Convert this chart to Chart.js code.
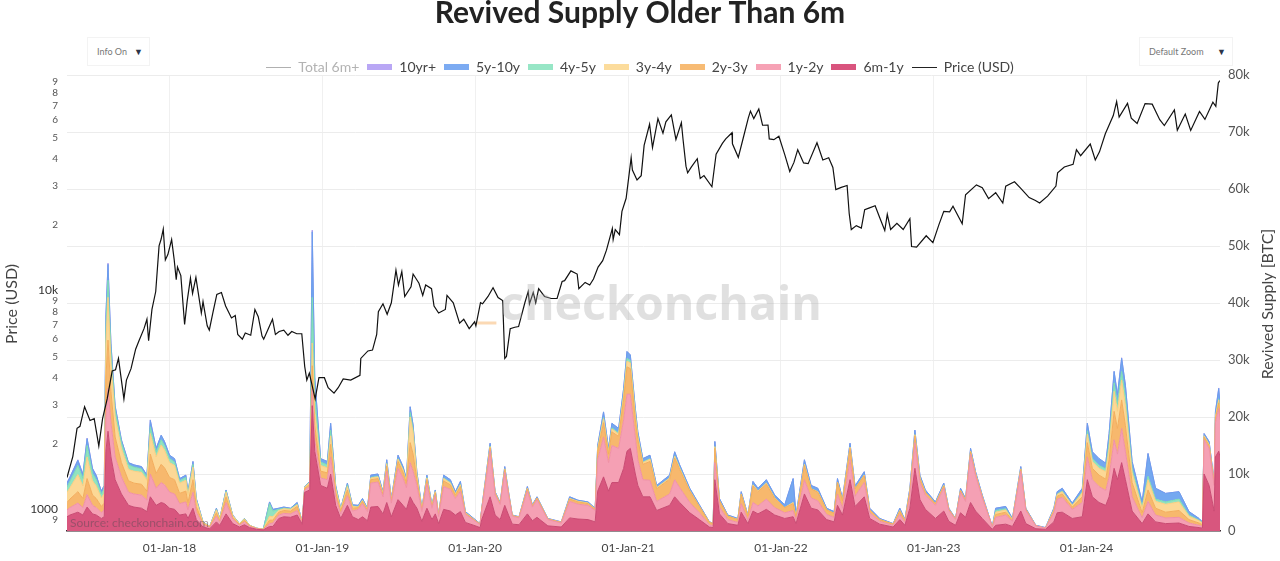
<!DOCTYPE html>
<html>
<head>
<meta charset="utf-8">
<title>Revived Supply Older Than 6m</title>
<script src="https://cdn.jsdelivr.net/npm/chart.js@4.4.1/dist/chart.umd.min.js"></script>
<style>
  html, body { margin: 0; padding: 0; background: #fff; }
  #wrap { position: relative; width: 1280px; height: 561px; overflow: hidden; }
  #chart { position: absolute; left: 0; top: 0; }
  .dropdown {
    position: absolute; top: 37px; height: 29px; box-sizing: border-box;
    border: 1px solid #f3f3f3; background: #fff;
    font: 9px Lato, sans-serif; color: #777;
    display: flex; align-items: center; justify-content: space-between;
    padding: 0 6px 0 9px;
  }
  .dropdown span.arrow { color: #2d3548; font-size: 9px; }
</style>
</head>
<body>
<div id="wrap">
  <canvas id="chart" width="1280" height="561"></canvas>
  <div class="dropdown" style="left:87px;width:63px;"><span>Info On</span><span class="arrow">&#9660;</span></div>
  <div class="dropdown" style="left:1139px;width:94px;"><span>Default Zoom</span><span class="arrow">&#9660;</span></div>
</div>
<script>
// ---- data (revived supply in thousands of BTC, price in USD) ----
const stackDates = [
  '2017-05-01','2017-05-08','2017-05-27','2017-06-08','2017-06-18','2017-07-01','2017-07-10','2017-07-22','2017-07-29','2017-08-02',
  '2017-08-07','2017-08-14','2017-08-24','2017-09-08','2017-09-25','2017-10-08','2017-10-26','2017-11-08','2017-11-16','2017-11-30',
  '2017-12-12','2017-12-20','2018-01-01','2018-01-13','2018-01-25','2018-02-09','2018-02-14','2018-02-26','2018-03-06','2018-03-22',
  '2018-04-07','2018-04-23','2018-05-01','2018-05-16','2018-06-01','2018-06-17','2018-06-29','2018-07-11','2018-07-28','2018-08-13',
  '2018-08-28','2018-09-05','2018-09-19','2018-10-01','2018-10-17','2018-11-02','2018-11-14','2018-11-20','2018-12-02','2018-12-08',
  '2018-12-14','2018-12-28','2019-01-13','2019-01-21','2019-02-02','2019-02-14','2019-03-02','2019-03-14','2019-03-28','2019-04-07',
  '2019-04-19','2019-04-27','2019-05-14','2019-05-26','2019-06-04','2019-06-15','2019-07-01','2019-07-13','2019-07-21','2019-07-30',
  '2019-08-06','2019-08-15','2019-08-27','2019-09-08','2019-09-20','2019-09-28','2019-10-06','2019-10-18','2019-11-03','2019-11-15',
  '2019-11-27','2019-12-09','2019-12-29','2020-01-13','2020-01-17','2020-02-06','2020-02-18','2020-03-01','2020-03-12','2020-03-21',
  '2020-03-30','2020-04-15','2020-05-05','2020-05-17','2020-05-28','2020-06-23','2020-07-25','2020-08-14','2020-09-03','2020-09-27',
  '2020-10-14','2020-10-20','2020-11-03','2020-11-15','2020-11-23','2020-12-09','2020-12-21','2020-12-29','2021-01-06','2021-01-18',
  '2021-01-24','2021-02-05','2021-02-22','2021-03-10','2021-04-10','2021-04-22','2021-05-04','2021-05-28','2021-06-20','2021-07-14',
  '2021-07-23','2021-07-27','2021-08-07','2021-08-27','2021-09-20','2021-09-28','2021-10-14','2021-10-26','2021-11-07','2021-11-27',
  '2021-12-17','2022-01-10','2022-01-30','2022-02-06','2022-02-26','2022-03-14','2022-03-30','2022-04-20','2022-05-08','2022-05-16',
  '2022-05-28','2022-06-15','2022-06-27','2022-07-19','2022-08-01','2022-08-25','2022-09-26','2022-10-12','2022-10-24','2022-11-05',
  '2022-11-17','2022-11-29','2022-12-12','2023-01-05','2023-01-25','2023-02-06','2023-02-22','2023-03-06','2023-03-18','2023-03-30',
  '2023-04-11','2023-04-27','2023-05-21','2023-05-29','2023-06-22','2023-07-08','2023-07-28','2023-08-09','2023-09-02','2023-09-25',
  '2023-10-15','2023-10-23','2023-11-04','2023-11-28','2023-12-22','2024-01-03','2024-01-15','2024-01-31','2024-02-16','2024-02-24',
  '2024-03-07','2024-03-15','2024-03-25','2024-04-03','2024-04-19','2024-05-13','2024-05-27','2024-06-14','2024-07-08','2024-08-09',
  '2024-09-02','2024-09-26','2024-10-04','2024-10-08','2024-10-20','2024-11-01','2024-11-04','2024-11-12','2024-11-15'
];

const band6m1y = [
  2.5,2.8,3.3,2.8,4.2,3.0,2.8,2.2,2.5,14,
  17.5,13,9,6.5,4.5,4.2,4,3.4,6,4.5,
  5,4.8,4,3.8,2.8,3,2.2,4,2,0.7,
  0.4,1.6,1,3,1.3,0.7,1.1,0.6,0.3,0.2,
  0.8,0.8,2.2,2.5,2.4,2.8,1.2,6.8,7.2,22,
  14,8,7.5,10,4.5,2.2,4.5,2.5,2,2.5,
  1.8,4.2,4.3,3,5,2.5,5.5,4.5,3.8,6,
  5,4,1.7,4,2,3,1.3,3.8,3.5,2.8,
  3.4,1.5,1,0.6,2,6,2.8,2,4.5,2.8,
  1.2,1.1,3,1.8,2.4,0.9,0.7,2.3,2.1,2,
  1.6,7,9.5,7,8.5,8.5,11,14,14.5,10,
  8,6,6,3.6,4.5,6,5,3.2,2,0.7,
  0.6,9,3,1.3,1,3.3,1.3,3.5,3,3.8,
  2.8,2.2,2.5,1.3,6.5,4,3.7,2,1.6,4.5,
  2.8,9,4.3,6,2.2,1.2,0.7,2,1,4,
  11,5.5,3.8,2.2,3.5,1.7,1,3.2,2.4,5,
  3.5,2.2,0.3,1,1.2,0.8,3.5,1.3,0.4,0.3,
  1.6,3.2,3.3,2.2,2.5,9,6,5,4.5,6,
  11,9,12,9,3.5,1.3,3,1.6,1.3,1.4,
  0.8,0.6,0.5,10,8,3.5,13,14,13
];
const band1y2y = [
  1.2,1.3,1.6,1.3,2.2,1.5,1.3,1.0,1.2,6,
  7.5,6,4,3,2.3,2.3,2.3,2,4,3,
  3.5,3.3,2.8,2.7,2,2.1,1.5,2.8,1.3,0.4,
  0.2,1,0.5,2,0.8,0.3,0.5,0.2,0.1,0.05,
  0.5,0.6,0.6,0.6,0.6,0.8,0.2,0.4,0.6,3,
  2,1.3,1.5,3,1.4,0.8,1.7,1,1.8,2.3,
  1.6,4.2,4.3,3,5.5,2.4,5.5,4.8,3.8,6,
  5.5,4,1.7,4.3,2,3.2,1.2,4,3.8,2.9,
  3.6,1.4,0.9,0.5,1.6,8,3.5,2.6,5.8,3.5,
  1.4,1.2,4,2.4,3.1,1.1,0.7,2.9,2.6,2.5,
  2,5.5,7,5,6.5,6,8.5,10,9.5,6.5,
  4.5,3,2.9,1.6,2,3,2.6,1.8,1.2,0.4,
  0.35,3,1.2,0.7,0.5,1.5,0.6,1.5,1.4,1.8,
  1.3,1,1.1,0.6,2.5,1.8,1.6,0.9,0.8,2,
  1.2,3.5,1.8,2.5,1,0.5,0.3,0.9,0.5,2,
  4.5,3,2.5,2.3,4,1.9,1,3.6,2.8,8.5,
  6.2,3.6,0.4,1.4,1.6,0.9,7,2.3,0.5,0.2,
  1.6,2.4,2.6,1.6,2.5,4,3,2.8,2.6,3.5,
  5,4.5,6,5,2.5,1,2.2,1.2,1,1,
  0.6,0.4,0.3,6,6.5,4.5,6,7.5,6.5
];
const band2y3y = [
  1.3,1.5,2.0,1.6,2.8,1.8,1.6,1.1,1.2,7,
  8.5,5.5,3.5,2.5,2,1.9,1.9,1.6,3.5,2.6,
  3.2,3,2.6,2.5,1.8,1.9,1.3,2.2,1,0.2,
  0.1,0.6,0.3,1,0.3,0.15,0.3,0.1,0.05,0.03,
  0.6,0.5,0.5,0.5,0.5,0.7,0.1,0.3,0.4,4,
  2.5,1.2,1.2,2.2,0.9,0.5,1,0.5,0.3,0.4,
  0.3,0.6,0.6,0.4,0.9,0.4,1.2,1,0.8,3.5,
  3,1,0.3,0.7,0.3,0.5,0.15,1,0.8,0.6,
  0.8,0.2,0.1,0.1,0.2,0.6,0.3,0.2,0.5,0.3,
  0.1,0.1,0.4,0.2,0.3,0.1,0.1,0.4,0.4,0.3,
  0.2,1.5,2.5,1.5,2.4,2.1,3.5,4.8,4.5,3,
  3.5,2.7,3.3,2.2,2.6,3.8,3.2,2,1.1,0.4,
  0.35,2.5,1.1,0.6,0.5,1.6,0.7,2.9,2.5,2.6,
  1.6,0.9,1.2,0.5,2.5,1.6,1.5,0.8,0.7,2,
  1.3,2,1.3,1.2,0.5,0.3,0.2,0.6,0.3,0.9,
  1.2,0.7,0.5,0.3,0.4,0.2,0.1,0.3,0.2,0.4,
  0.3,0.2,0,0.5,0.5,0.2,0.3,0.2,0,0,
  0.3,0.5,0.6,0.4,1,2.5,2,2,2,3,
  5,4.5,5,4.5,2.5,0.9,2,1.2,1,1.2,
  0.6,0.4,0.3,0.5,0.5,0.3,0.7,1,0.8
];
const band3y4y = [
  1.8,2.0,3.0,2.2,3.8,2.5,2.2,1.5,1.7,6,
  7.5,5,3.5,2.5,2,2.1,2.1,1.9,3.6,2.9,
  3.4,3.1,2.6,2.5,1.8,1.9,1.3,2.2,1,0.2,
  0.1,0.5,0.3,0.8,0.3,0.1,0.2,0.1,0.05,0.02,
  0.7,0.6,0.3,0.3,0.3,0.3,0.1,0.2,0.3,4,
  2.5,1,0.9,1.5,0.6,0.3,0.6,0.3,0.1,0.15,
  0.1,0.3,0.3,0.2,0.4,0.1,0.4,0.4,0.3,4.5,
  3.8,0.7,0.1,0.3,0.1,0.2,0.05,0.4,0.3,0.2,
  0.3,0.1,0.05,0,0,0.2,0.1,0,0.1,0,
  0,0,0.1,0,0,0,0,0.1,0.1,0.1,
  0,0.4,0.7,0.3,0.5,0.4,0.7,1,1,0.8,
  0.5,0.3,0.4,0.2,0.2,0.3,0.2,0.1,0,0,
  0,0.3,0,0,0,0.1,0,0.2,0.1,0.2,
  0.1,0,0.2,0,0.2,0,0.1,0,0,0.1,
  0,0.2,0,0.1,0,0,0,0.1,0,0.1,
  0.2,0.1,0,0,0.1,0,0,0,0,0.1,
  0,0,0,0.4,0.4,0.1,0.1,0,0,0,
  0.2,0.3,0.4,0.3,0.7,1.5,1.2,1.2,1.3,2,
  3.5,3,3.5,3.5,1.7,0.8,1.8,1.2,1.4,1.5,
  0.6,0.4,0.3,0.2,0.2,0,0.3,0.5,0.4
];
const band4y5y = [
  0.9,1.1,1.6,1.3,2.0,1.3,1.1,0.7,0.8,2.5,
  3,2,1.2,1,0.8,0.7,0.6,0.5,1.2,0.8,
  0.9,0.8,0.7,0.6,0.4,0.5,0.3,0.5,0.2,0.05,
  0,0.1,0.05,0.2,0.05,0.03,0.05,0,0,0,
  2.2,1,0.2,0.1,0.1,0.1,0,0.05,0.1,8,
  3,0.6,0.5,1,0.3,0.1,0.3,0.1,0.05,0.05,
  0,0.1,0.1,0,0.1,0,0.1,0.1,0,0.8,
  0.5,0.2,0,0.1,0,0,0,0.1,0.1,0,
  0.1,0,0,0,0,0.1,0,0,0,0,
  0,0,0,0,0,0,0,0,0,0,
  0,0.1,0.2,0.1,0.2,0.2,0.3,0.5,0.4,0.3,
  0.2,0.1,0.1,0,0,0.1,0.1,0,0,0,
  0,0,0,0,0,0,0,0,0,0,
  0,0,0,0,0,0,0,0,0,0,
  0,0,0,0,0,0,0,0,0,0,
  0,0,0,0,0,0,0,0,0,0,
  0,0,0,0.3,0.2,0,0,0,0,0,
  0,0.1,0.1,0,0.2,0.6,0.5,0.5,0.5,1,
  1.5,1.2,1.5,1.5,0.7,0.3,0.6,0.4,0.4,0.5,
  0.2,0.1,0.1,0,0,0,0,0.2,0
];
const band5y10y = [
  0.7,0.7,0.9,0.7,1.2,0.8,0.7,0.5,0.6,2.4,
  2.8,1.4,0.7,0.5,0.4,0.4,0.4,0.4,1.1,0.7,
  0.8,0.7,0.6,0.6,0.4,0.4,0.3,0.5,0.2,0.05,
  0,0.2,0.05,0.2,0.05,0.02,0.05,0,0,0,
  0.3,0.3,0.2,0.2,0.1,0.3,0,0.05,0.1,11.5,
  3,0.6,0.6,1.2,0.3,0.1,0.3,0.2,0.25,0.3,
  0.2,0.4,0.4,0.3,0.6,0.3,0.6,0.5,0.5,1,
  0.8,0.5,0.2,0.4,0.2,0.3,0.1,0.5,0.5,0.4,
  0.5,0.2,0.15,0.1,0.2,0.5,0.2,0.2,0.4,0.3,
  0.1,0.1,0.3,0.2,0.2,0.1,0.1,0.3,0.2,0.2,
  0.2,0.5,1,0.6,0.8,0.8,1,1.2,1,0.9,
  0.7,0.6,0.6,0.4,0.5,0.7,0.5,0.4,0.3,0.1,
  0.1,0.9,0.4,0.2,0.2,0.4,0.2,0.6,0.5,0.6,
  0.5,0.5,4.2,0.4,0.8,0.6,0.6,0.3,0.3,0.6,
  0.4,0.7,0.5,0.6,0.3,0.2,0.1,0.4,0.2,0.5,
  0.8,0.5,0.4,0.3,0.4,0.2,0.1,0.4,0.3,0.5,
  0.4,0.3,0.1,0.4,0.4,0.2,0.4,0.2,0.1,0.1,
  0.3,0.4,0.5,0.4,0.6,1.3,1.2,1.2,1,1.6,
  2,1.7,2.3,2.1,1.3,0.8,4,1.9,1.5,1.3,
  0.6,0.3,0.1,0.4,0.5,0.4,0.9,1.8,1.3
];
const band10yPlus = [
  0.1,0.1,0.1,0.1,0.1,0.1,0.1,0,0,0.1,
  0.2,0.1,0.1,0,0,0,0,0,0.1,0,
  0,0,0,0,0,0,0,0,0,0,
  0,0,0,0,0,0,0,0,0,0,
  0,0,0,0,0,0,0,0,0,0.3,
  0,0,0,0,0,0,0,0,0,0,
  0,0,0,0,0,0,0,0,0,0,
  0,0,0,0,0,0,0,0,0,0,
  0,0,0,0,0,0,0,0,0,0,
  0,0,0,0,0,0,0,0,0,0,
  0,0,0,0,0,0,0,0,0,0,
  0,0,0,0,0,0,0,0,0,0,
  0,0,0,0,0,0,0,0,0,0,
  0,0,0,0,0,0,0,0,0,0,
  0,0,0,0,0,0,0,0,0,0,
  0,0,0,0,0,0,0,0,0,0,
  0,0,0,0,0,0,0,0,0,0,
  0,0,0,0,0,0,0,0,0,0,
  0,0,0.1,0,0,0,0,0,0,0,
  0,0,0,0,0,0,0,0.1,0
];

const priceDates = [
  '2017-05-01','2017-05-15','2017-05-25','2017-06-01','2017-06-12','2017-06-25','2017-07-05','2017-07-16','2017-07-25','2017-08-05',
  '2017-08-17','2017-08-25','2017-09-01','2017-09-14','2017-09-20','2017-10-01','2017-10-12','2017-10-20','2017-11-01','2017-11-08',
  '2017-11-12','2017-11-20','2017-11-29','2017-12-07','2017-12-12','2017-12-17','2017-12-22','2017-12-28','2018-01-06','2018-01-12',
  '2018-01-17','2018-01-20','2018-01-28','2018-02-06','2018-02-12','2018-02-20','2018-02-25','2018-03-05','2018-03-18','2018-03-22',
  '2018-04-01','2018-04-06','2018-04-15','2018-04-24','2018-05-05','2018-05-15','2018-05-29','2018-06-07','2018-06-13','2018-06-24',
  '2018-07-01','2018-07-14','2018-07-24','2018-08-01','2018-08-10','2018-08-14','2018-08-25','2018-09-04','2018-09-11','2018-09-20',
  '2018-10-01','2018-10-11','2018-10-20','2018-11-01','2018-11-13','2018-11-20','2018-11-25','2018-12-01','2018-12-15','2018-12-24',
  '2019-01-06','2019-01-15','2019-01-29','2019-02-08','2019-02-20','2019-03-10','2019-04-01','2019-04-03','2019-04-20','2019-05-01',
  '2019-05-11','2019-05-15','2019-05-26','2019-06-05','2019-06-15','2019-06-26','2019-07-02','2019-07-10','2019-07-17','2019-08-01',
  '2019-08-06','2019-08-20','2019-08-29','2019-09-05','2019-09-19','2019-09-25','2019-10-06','2019-10-22','2019-10-26','2019-11-10',
  '2019-11-25','2019-12-05','2019-12-18','2019-12-31','2020-01-03','2020-01-14','2020-01-19','2020-02-01','2020-02-13','2020-02-25',
  '2020-03-07','2020-03-12','2020-03-16','2020-03-25','2020-04-05','2020-04-14','2020-04-29','2020-05-07','2020-05-10','2020-05-19',
  '2020-05-25','2020-06-01','2020-06-15','2020-07-01','2020-07-15','2020-07-27','2020-08-02','2020-08-17','2020-09-01','2020-09-05',
  '2020-09-20','2020-10-01','2020-10-10','2020-10-21','2020-11-01','2020-11-10','2020-11-24','2020-11-26','2020-12-01','2020-12-11',
  '2020-12-17','2020-12-27','2021-01-08','2021-01-11','2021-01-22','2021-02-01','2021-02-08','2021-02-21','2021-02-28','2021-03-13',
  '2021-03-25','2021-04-01','2021-04-14','2021-04-25','2021-05-08','2021-05-12','2021-05-19','2021-05-23','2021-06-01','2021-06-15',
  '2021-06-22','2021-07-01','2021-07-20','2021-07-30','2021-08-14','2021-08-22','2021-09-06','2021-09-07','2021-09-21','2021-10-01',
  '2021-10-15','2021-10-20','2021-10-28','2021-11-09','2021-11-18','2021-12-01','2021-12-04','2021-12-15','2021-12-27','2022-01-10',
  '2022-01-22','2022-02-01','2022-02-10','2022-02-24','2022-03-07','2022-03-28','2022-04-11','2022-04-25','2022-05-05','2022-05-12',
  '2022-05-25','2022-06-08','2022-06-13','2022-06-18','2022-06-30','2022-07-12','2022-07-20','2022-07-30','2022-08-14','2022-08-25',
  '2022-09-06','2022-09-12','2022-09-20','2022-10-05','2022-10-20','2022-11-05','2022-11-09','2022-11-21','2022-12-14','2022-12-30',
  '2023-01-13','2023-01-25','2023-02-08','2023-02-16','2023-03-10','2023-03-18','2023-04-13','2023-04-27','2023-05-12','2023-05-29',
  '2023-06-15','2023-06-22','2023-07-13','2023-07-28','2023-08-17','2023-09-01','2023-09-11','2023-09-30','2023-10-20','2023-10-24',
  '2023-11-09','2023-11-30','2023-12-08','2023-12-18','2024-01-10','2024-01-22','2024-02-01','2024-02-15','2024-03-05','2024-03-13',
  '2024-03-19','2024-04-08','2024-04-17','2024-05-01','2024-05-20','2024-06-06','2024-06-24','2024-07-05','2024-07-29','2024-08-05',
  '2024-08-24','2024-09-06','2024-09-27','2024-10-10','2024-10-29','2024-11-05','2024-11-11','2024-11-13','2024-11-15'
];
const priceUsd = [
  1400,1750,2350,2400,2950,2550,2600,1950,2600,3200,
  4300,4350,4900,3200,3900,4400,5400,5900,6700,7400,
  5900,8200,9900,16000,17200,19100,13800,14600,17100,13900,
  11200,12800,11700,7000,8900,11400,9700,11500,7900,8900,
  6900,6600,8000,9600,9800,8500,7500,7700,6300,6000,
  6400,6250,8200,7600,6200,6000,6700,7400,6300,6500,
  6600,6250,6500,6350,6350,4500,3900,4200,3200,4000,
  4000,3600,3400,3600,3950,3900,4100,4900,5300,5350,
  6300,8000,8700,7800,8800,12400,10600,12200,9400,10400,
  11900,10800,9500,10600,10200,8500,7900,8200,9500,8800,
  7100,7400,6700,7200,6900,8800,8700,9400,10300,9300,
  9000,4900,5000,6700,6800,6850,8800,9900,8700,9800,
  8800,10200,9400,9200,9200,11000,11100,12300,11900,10200,
  10900,10600,11300,12800,13700,15300,19200,17100,19000,18000,
  23000,26400,40500,35500,32000,33500,46000,57500,45000,61000,
  52300,59000,63500,49000,58500,49000,37000,34500,36700,40000,
  32500,33500,29800,42000,47000,49300,52600,46800,40600,48200,
  61500,66000,61000,67500,56900,57000,49300,48900,50700,41800,
  35000,38500,44000,38300,38000,47300,39500,40400,36500,28900,
  29600,30200,22500,19000,19800,19300,23400,23800,24400,21500,
  18800,22300,19000,20300,19000,21300,15900,15800,17800,16550,
  19900,23000,22900,24300,20200,27400,30400,29500,26300,28000,
  25100,30000,31400,29300,26600,25800,25100,27000,30000,34500,
  36700,37700,44000,41300,46700,39500,43000,52000,63000,73000,
  62000,71600,61300,58000,71400,71000,60300,56700,66800,54000,
  64000,53900,65800,60500,72500,69400,88700,90000,91000
];

// short peach dash visible early 2020 (thousands of BTC)
const dashDates = ['2020-01-06', '2020-02-21'];
const dashLevel = [36.5, 36.5];

const priceTicks = [900, 1000, 2000, 3000, 4000, 5000, 6000, 7000, 8000, 9000,
  10000, 20000, 30000, 40000, 50000, 60000, 70000, 80000, 90000];
const supplyTicks = [0, 10, 20, 30, 40, 50, 60, 70, 80];
const yearTicks = ['2018-01-01', '2019-01-01', '2020-01-01', '2021-01-01', '2022-01-01', '2023-01-01', '2024-01-01'];

// ---- styling ----
const FONT = 'Lato, "Open Sans", sans-serif';
const bands = [
  { label: '6m-1y', data: band6m1y, fill: '#d8567e', line: '#c94a72', key: '#d9547e' },
  { label: '1y-2y', data: band1y2y, fill: '#f5a0b4', line: '#f090a6', key: '#f6a2b5' },
  { label: '2y-3y', data: band2y3y, fill: '#f7b86d', line: '#f3ad5c', key: '#f7bb74' },
  { label: '3y-4y', data: band3y4y, fill: '#fcd896', line: '#f8cf82', key: '#fcdc9c' },
  { label: '4y-5y', data: band4y5y, fill: '#91e3c0', line: '#7fdcb4', key: '#97e6c6' },
  { label: '5y-10y', data: band5y10y, fill: '#74a8f0', line: '#6a9ded', key: '#7cabf2' },
  { label: '10yr+', data: band10yPlus, fill: '#b3a0f0', line: '#a996ec', key: '#b9a7f5' }
];
const legendOrder = ['Total 6m+', '10yr+', '5y-10y', '4y-5y', '3y-4y', '2y-3y', '1y-2y', '6m-1y', 'Price (USD)'];

const toPoints = (dates, vals) => dates.map((d, i) => ({ x: Date.parse(d), y: vals[i] }));

function swatch(color, h) {
  const c = document.createElement('canvas');
  c.width = 25;
  c.height = h;
  const g = c.getContext('2d');
  g.fillStyle = color;
  g.fillRect(0, 0, 25, h);
  return c;
}
const symbols = { 'Total 6m+': swatch('#b0b0b0', 1), 'Price (USD)': swatch('#222', 1) };
bands.forEach(b => { symbols[b.label] = swatch(b.key, 6); });

const totalSupply = stackDates.map((_, i) => bands.reduce((s, b) => s + b.data[i], 0));

const datasets = [
  {
    label: 'Price (USD)', data: toPoints(priceDates, priceUsd), yAxisID: 'yPrice',
    borderColor: '#111', borderWidth: 1.2, pointRadius: 0, fill: false, order: -1
  }
];
bands.forEach((b, i) => {
  datasets.push({
    label: b.label, data: toPoints(stackDates, b.data), yAxisID: 'ySupply', stack: 'revived',
    backgroundColor: b.fill, borderColor: b.line, borderWidth: 1, pointRadius: 0,
    fill: i === 0 ? 'origin' : '-1'
  });
});
datasets.push({
  label: 'Total 6m+', data: toPoints(stackDates, totalSupply), yAxisID: 'ySupply', stack: 'total',
  hidden: true, borderColor: '#999', borderWidth: 1, pointRadius: 0, fill: false
});
datasets.push({
  label: 'dash', data: toPoints(dashDates, dashLevel), yAxisID: 'ySupply', stack: 'dash',
  borderColor: '#fbd9b4', borderWidth: 3, pointRadius: 0, fill: false
});

const overlayText = {
  id: 'overlayText',
  afterDatasetsDraw(chart) {
    const ctx = chart.ctx;
    ctx.save();
    // watermark
    ctx.font = 'bold 50px "Open Sans", sans-serif';
    const w = ctx.measureText('checkonchain').width;
    const size = 50 * 322 / w;
    ctx.font = 'bold ' + size + 'px "Open Sans", sans-serif';
    ctx.fillStyle = 'rgba(170,170,170,0.36)';
    ctx.textAlign = 'left';
    ctx.textBaseline = 'alphabetic';
    ctx.fillText('checkonchain', 500, 320);
    // source note
    ctx.font = '12px ' + FONT;
    ctx.fillStyle = 'rgba(105,75,90,0.55)';
    ctx.fillText('Source: checkonchain.com', 70, 527);
    ctx.restore();
  },
  afterDraw(chart) {
    const ctx = chart.ctx;
    const axisTitle = (text, x) => {
      ctx.save();
      ctx.font = '16px ' + FONT;
      ctx.fillStyle = '#444';
      ctx.textAlign = 'center';
      ctx.textBaseline = 'middle';
      ctx.translate(x, 304);
      ctx.rotate(-Math.PI / 2);
      ctx.fillText(text, 0, 0);
      ctx.restore();
    };
    axisTitle('Price (USD)', 12);
    axisTitle('Revived Supply [BTC]', 1268);
  }
};

const isMajor = v => v === 1000 || v === 10000;

new Chart(document.getElementById('chart'), {
  type: 'line',
  data: { datasets },
  options: {
    responsive: false,
    animation: false,
    devicePixelRatio: 1,
    layout: { padding: 0 },
    elements: { line: { tension: 0 } },
    plugins: {
      tooltip: { enabled: false },
      title: {
        display: true,
        text: 'Revived Supply Older Than 6m',
        color: '#222',
        font: { family: FONT, size: 30, weight: 'bold', lineHeight: 0.87 },
        padding: { top: 0, bottom: 26 }
      },
      legend: {
        display: true,
        position: 'top',
        maxHeight: 23,
        labels: {
          usePointStyle: true,
          pointStyleWidth: 25,
          padding: 8,
          font: { family: FONT, size: 14 },
          color: '#444',
          generateLabels(chart) {
            return legendOrder.map(name => {
              const idx = chart.data.datasets.findIndex(d => d.label === name);
              return {
                text: name,
                datasetIndex: idx,
                pointStyle: symbols[name],
                fontColor: name === 'Total 6m+' ? '#b3b3b3' : '#444',
                hidden: false,
                lineWidth: 0,
                strokeStyle: 'transparent',
                fillStyle: 'transparent'
              };
            });
          }
        }
      }
    },
    scales: {
      x: {
        type: 'linear',
        min: Date.parse('2017-05-01'),
        max: Date.parse('2024-11-15'),
        afterBuildTicks: s => { s.ticks = yearTicks.map(d => ({ value: Date.parse(d) })); },
        afterFit: s => { s.height = 30; },
        ticks: {
          autoSkip: false,
          maxRotation: 0,
          padding: 10,
          color: '#444',
          font: { family: FONT, size: 12 },
          callback: v => '01-Jan-' + String(new Date(v).getUTCFullYear()).slice(2)
        },
        grid: { color: '#f0f0f0', drawTicks: false },
        border: { color: '#3a2a32', width: 1.5 }
      },
      yPrice: {
        type: 'logarithmic',
        position: 'left',
        min: 798,
        max: 96400,
        afterBuildTicks: s => { s.ticks = priceTicks.map(v => ({ value: v })); },
        afterFit: s => { s.width = 67; },
        grid: { display: false, drawTicks: false },
        border: { display: false },
        ticks: {
          autoSkip: false,
          padding: 9,
          color: ctx => isMajor(ctx.tick.value) ? '#333' : '#555',
          font: ctx => ({ family: FONT, size: isMajor(ctx.tick.value) ? 12 : 10 }),
          callback: v => {
            if (v === 1000) return '1000';
            if (v === 10000) return '10k';
            return String(Math.round(v / Math.pow(10, Math.floor(Math.log10(v) + 1e-9))));
          }
        }
      },
      ySupply: {
        type: 'linear',
        position: 'right',
        stacked: true,
        min: 0,
        max: 80,
        afterBuildTicks: s => { s.ticks = supplyTicks.map(v => ({ value: v })); },
        afterFit: s => { s.width = 60; },
        grid: { color: '#ececec', drawTicks: false },
        border: { display: false },
        ticks: {
          padding: 8,
          color: '#555',
          font: { family: FONT, size: 13 },
          callback: v => v === 0 ? '0' : v + 'k'
        }
      }
    }
  },
  plugins: [overlayText]
});
</script>
</body>
</html>
